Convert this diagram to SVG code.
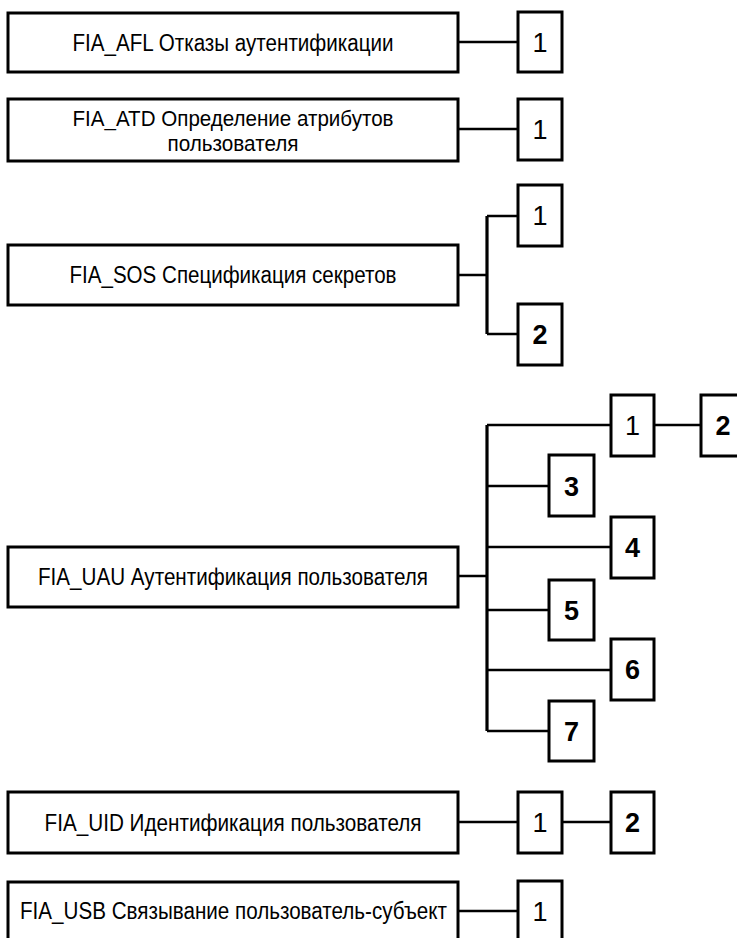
<svg xmlns="http://www.w3.org/2000/svg" width="737" height="938" viewBox="0 0 737 938">
<style>
.box{fill:#fff;stroke:#000;stroke-width:3}
.num{fill:#fff;stroke:#000;stroke-width:3}
.lbl{font-family:"Liberation Sans",Arial,sans-serif;font-size:23px;fill:#000;text-anchor:middle}
.sm{font-size:22px}
.d{font-family:"Liberation Sans",Arial,sans-serif;font-size:27px;fill:#000;text-anchor:middle}
.b{font-weight:bold}
.c{fill:none;stroke:#000;stroke-width:2.5}
.bus{fill:none;stroke:#000;stroke-width:3.2}
</style>
<rect width="737" height="938" fill="#fff"/>
<g id="connectors">
<path class="c" d="M458 42H518"/>
<path class="c" d="M458 129H518"/>
<path class="c" d="M458 275H487M518 216H487M518 334H487"/>
<path class="bus" d="M487 216V334"/>
<path class="c" d="M458 576H487M611 425H487M549 486H487M611 547H487M549 610H487M611 670H487M549 731H487M654 425H701"/>
<path class="bus" d="M487 425V731"/>
<path class="c" d="M458 822H518M562 822H611"/>
<path class="c" d="M458 911H518"/>
</g>
<g id="fia_afl"><rect class="box" x="8" y="13" width="450" height="59"/><text class="lbl" x="233" y="51" textLength="321" lengthAdjust="spacingAndGlyphs">FIA_AFL Отказы аутентификации</text></g>
<g id="fia_afl_1"><rect class="num" x="518" y="12" width="44" height="60"/><text class="d" x="540" y="52">1</text></g>
<g id="fia_atd"><rect class="box" x="8" y="99" width="450" height="62"/><text class="lbl sm" x="233" y="126" textLength="321" lengthAdjust="spacingAndGlyphs">FIA_ATD Определение атрибутов</text><text class="lbl sm" x="233" y="151" textLength="131" lengthAdjust="spacingAndGlyphs">пользователя</text></g>
<g id="fia_atd_1"><rect class="num" x="518" y="99" width="44" height="61"/><text class="d" x="540" y="139">1</text></g>
<g id="fia_sos"><rect class="box" x="8" y="245" width="450" height="60"/><text class="lbl" x="233" y="283" textLength="327" lengthAdjust="spacingAndGlyphs">FIA_SOS Спецификация секретов</text></g>
<g id="fia_sos_1"><rect class="num" x="518" y="185" width="44" height="61"/><text class="d" x="540" y="225">1</text></g>
<g id="fia_sos_2"><rect class="num" x="518" y="304" width="44" height="61"/><text class="d b" x="540" y="344">2</text></g>
<g id="fia_uau"><rect class="box" x="8" y="547" width="450" height="60"/><text class="lbl" x="233" y="585" textLength="390" lengthAdjust="spacingAndGlyphs">FIA_UAU Аутентификация пользователя</text></g>
<g id="fia_uau_1"><rect class="num" x="611" y="395" width="43" height="61"/><text class="d" x="632.5" y="435">1</text></g>
<g id="fia_uau_2"><rect class="num" x="701" y="395" width="44" height="61"/><text class="d b" x="723" y="435">2</text></g>
<g id="fia_uau_3"><rect class="num" x="549" y="455" width="45" height="61"/><text class="d b" x="571.5" y="496">3</text></g>
<g id="fia_uau_4"><rect class="num" x="611" y="517" width="43" height="61"/><text class="d b" x="632.5" y="557">4</text></g>
<g id="fia_uau_5"><rect class="num" x="549" y="580" width="45" height="60"/><text class="d b" x="571.5" y="620">5</text></g>
<g id="fia_uau_6"><rect class="num" x="611" y="639" width="43" height="61"/><text class="d b" x="632.5" y="679">6</text></g>
<g id="fia_uau_7"><rect class="num" x="549" y="701" width="45" height="60"/><text class="d b" x="571.5" y="741">7</text></g>
<g id="fia_uid"><rect class="box" x="8" y="792" width="450" height="61"/><text class="lbl" x="233" y="831" textLength="377" lengthAdjust="spacingAndGlyphs">FIA_UID Идентификация пользователя</text></g>
<g id="fia_uid_1"><rect class="num" x="518" y="792" width="44" height="61"/><text class="d" x="540" y="832">1</text></g>
<g id="fia_uid_2"><rect class="num" x="611" y="792" width="43" height="61"/><text class="d b" x="632.5" y="832">2</text></g>
<g id="fia_usb"><rect class="box" x="8" y="882" width="450" height="70"/><text class="lbl" x="233.5" y="919" textLength="427" lengthAdjust="spacingAndGlyphs">FIA_USB Связывание пользователь-субъект</text></g>
<g id="fia_usb_1"><rect class="num" x="518" y="881" width="44" height="70"/><text class="d" x="540" y="921">1</text></g>
</svg>
